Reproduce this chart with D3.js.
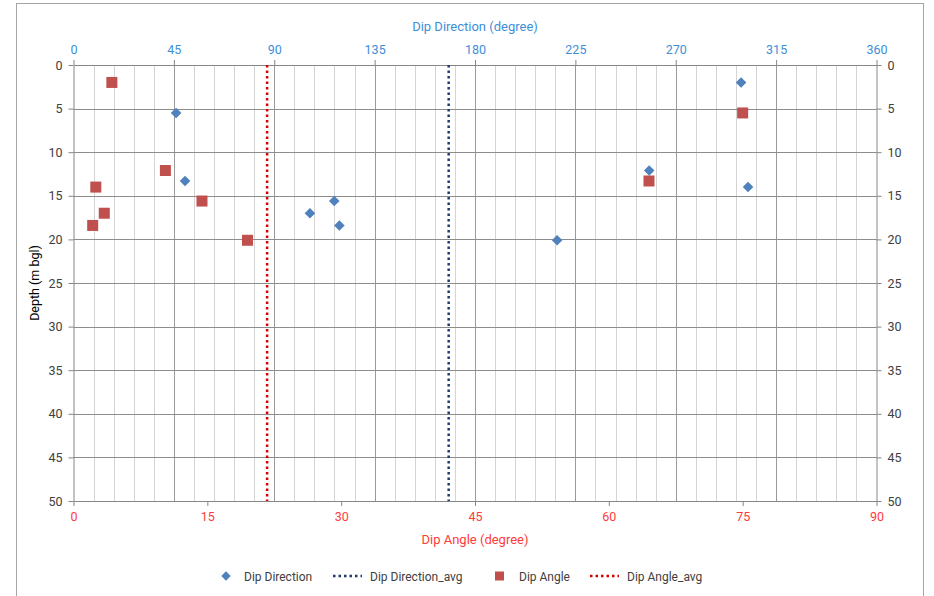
<!DOCTYPE html>
<html>
<head>
<meta charset="utf-8">
<script src="https://cdn.jsdelivr.net/npm/d3@7"></script>
<style>
  html, body { margin: 0; padding: 0; background: #fff; }
  svg { display: block; font-family: Roboto, "Liberation Sans", sans-serif; }
</style>
</head>
<body>
<svg id="chart" width="934" height="596"></svg>
<script>
// Depth of each measured structure (m below ground level)
const depths = [2.0, 5.5, 12.1, 13.3, 14.0, 15.6, 17.0, 18.4, 20.1];
// Dip direction (degrees, top axis)
const dipDirection = [299.3, 46.0, 258.1, 50.0, 302.4, 116.9, 106.0, 119.2, 216.8];
// Dip angle (degrees, bottom axis)
const dipAngle = [4.3, 75.0, 10.3, 64.5, 2.5, 14.4, 3.45, 2.15, 19.5];
// Averages drawn as vertical reference lines
const dipDirectionAvg = [168.2];
const dipAngleAvg = [21.7];
// Tick values
const dirTicks = [0, 45, 90, 135, 180, 225, 270, 315, 360];
const angleTicks = [0, 15, 30, 45, 60, 75, 90];
const depthTicks = [0, 5, 10, 15, 20, 25, 30, 35, 40, 45, 50];
const legendItems = ["Dip Direction", "Dip Direction_avg", "Dip Angle", "Dip Angle_avg"];

const svg = d3.select("#chart");
const plotLeft = 73.5, plotRight = 876.5, plotTop = 65, plotBottom = 501;

const xDir = d3.scaleLinear().domain([0, 360]).range([plotLeft, plotRight]);
const xAng = d3.scaleLinear().domain([0, 90]).range([plotLeft, plotRight]);
const y = d3.scaleLinear().domain([0, 50]).range([plotTop, plotBottom]);

const blue = "#4f81bd", red = "#c0504d";
const axisBlue = "#3d8fd8", axisRed = "#ff3b3b", textGrey = "#404040";

// outer chart frame
svg.append("rect").attr("x", 16.5).attr("y", 3.5).attr("width", 907).attr("height", 600)
  .attr("fill", "#fff").attr("stroke", "#a6a6a6").attr("stroke-width", 1);

// vertical gridlines: minor every 9 degrees of direction, major every 45
const grid = svg.append("g");
grid.selectAll("line.vminor").data(d3.range(9, 360, 9).filter(d => d % 45 !== 0))
  .join("line").attr("class", "vminor")
  .attr("x1", d => Math.round(xDir(d)) + 0.5).attr("x2", d => Math.round(xDir(d)) + 0.5)
  .attr("y1", plotTop).attr("y2", plotBottom)
  .attr("stroke", "#d4d4d4").attr("stroke-width", 1);
grid.selectAll("line.vmajor").data(d3.range(45, 360, 45))
  .join("line").attr("class", "vmajor")
  .attr("x1", d => Math.round(xDir(d)) + 0.5).attr("x2", d => Math.round(xDir(d)) + 0.5)
  .attr("y1", plotTop).attr("y2", plotBottom)
  .attr("stroke", "#9a9a9a").attr("stroke-width", 1);
grid.selectAll("line.h").data(depthTicks.slice(1, -1))
  .join("line").attr("class", "h")
  .attr("x1", plotLeft).attr("x2", plotRight)
  .attr("y1", d => Math.round(y(d)) + 0.5).attr("y2", d => Math.round(y(d)) + 0.5)
  .attr("stroke", "#8c8c8c").attr("stroke-width", 1);

// axes
function styleAxis(g, color) {
  g.selectAll(".domain").attr("stroke", "#868686");
  g.selectAll(".tick line").attr("stroke", "#868686");
  g.selectAll(".tick text").attr("fill", color).attr("font-size", "12.5px")
    .attr("font-family", "Roboto, 'Liberation Sans', sans-serif");
}
const axTop = svg.append("g").attr("transform", `translate(0,${plotTop})`)
  .call(d3.axisTop(xDir).tickValues(dirTicks).tickSizeInner(5).tickSizeOuter(0).tickPadding(6));
styleAxis(axTop, axisBlue);
const axBottom = svg.append("g").attr("transform", `translate(0,${plotBottom})`)
  .call(d3.axisBottom(xAng).tickValues(angleTicks).tickSizeInner(5).tickSizeOuter(0).tickPadding(6));
styleAxis(axBottom, axisRed);
const axLeft = svg.append("g").attr("transform", `translate(${plotLeft},0)`)
  .call(d3.axisLeft(y).tickValues(depthTicks).tickSizeInner(5).tickSizeOuter(0).tickPadding(6));
styleAxis(axLeft, textGrey);
const axRight = svg.append("g").attr("transform", `translate(${plotRight},0)`)
  .call(d3.axisRight(y).tickValues(depthTicks).tickSizeInner(5).tickSizeOuter(0).tickPadding(6));
styleAxis(axRight, textGrey);

// axis titles
svg.append("text").attr("x", (plotLeft + plotRight) / 2).attr("y", 31).attr("text-anchor", "middle")
  .attr("fill", axisBlue).attr("font-size", "13px").text("Dip Direction (degree)");
svg.append("text").attr("x", (plotLeft + plotRight) / 2).attr("y", 544).attr("text-anchor", "middle")
  .attr("fill", axisRed).attr("font-size", "13px").text("Dip Angle (degree)");
svg.append("text").attr("transform", `translate(38.5,283) rotate(-90)`)
  .attr("text-anchor", "middle").attr("fill", "#000").attr("font-size", "12.5px").text("Depth (m bgl)");

// average lines
const dotted = { width: 2.5, dash: "2.5,3" };
svg.selectAll("line.dirAvg").data(dipDirectionAvg).join("line").attr("class", "dirAvg")
  .attr("x1", d => xDir(d)).attr("x2", d => xDir(d)).attr("y1", y(0)).attr("y2", y(50))
  .attr("stroke", "#1f3b6e").attr("stroke-width", dotted.width).attr("stroke-dasharray", dotted.dash);
svg.selectAll("line.angAvg").data(dipAngleAvg).join("line").attr("class", "angAvg")
  .attr("x1", d => xAng(d)).attr("x2", d => xAng(d)).attr("y1", y(0)).attr("y2", y(50))
  .attr("stroke", "#d90000").attr("stroke-width", dotted.width).attr("stroke-dasharray", dotted.dash);

// markers
const diamond = d3.symbol().type(d3.symbolSquare).size(56);
svg.selectAll("path.dir").data(depths.map((d, i) => ({ depth: d, v: dipDirection[i] })))
  .join("path").attr("class", "dir")
  .attr("d", diamond)
  .attr("transform", d => `translate(${xDir(d.v)},${y(d.depth)}) rotate(45)`)
  .attr("fill", blue);
svg.selectAll("rect.ang").data(depths.map((d, i) => ({ depth: d, v: dipAngle[i] })))
  .join("rect").attr("class", "ang")
  .attr("x", d => xAng(d.v) - 5.5).attr("y", d => y(d.depth) - 5.5)
  .attr("width", 11).attr("height", 11)
  .attr("fill", red);

// legend
const lg = svg.append("g").attr("font-size", "12px").attr("fill", textGrey);
const ly = 576;
lg.append("path").attr("d", d3.symbol().type(d3.symbolSquare).size(44))
  .attr("transform", `translate(226,${ly}) rotate(45)`).attr("fill", blue);
lg.append("text").attr("x", 244).attr("y", ly + 4.5).attr("fill", textGrey).text(legendItems[0]);
lg.append("line").attr("x1", 333).attr("x2", 362).attr("y1", ly).attr("y2", ly)
  .attr("stroke", "#1f3b6e").attr("stroke-width", dotted.width).attr("stroke-dasharray", dotted.dash);
lg.append("text").attr("x", 370).attr("y", ly + 4.5).attr("fill", textGrey).text(legendItems[1]);
lg.append("rect").attr("x", 495).attr("y", ly - 4.5).attr("width", 9).attr("height", 9).attr("fill", red);
lg.append("text").attr("x", 519).attr("y", ly + 4.5).attr("fill", textGrey).text(legendItems[2]);
lg.append("line").attr("x1", 590).attr("x2", 619).attr("y1", ly).attr("y2", ly)
  .attr("stroke", "#d90000").attr("stroke-width", dotted.width).attr("stroke-dasharray", dotted.dash);
lg.append("text").attr("x", 627).attr("y", ly + 4.5).attr("fill", textGrey).text(legendItems[3]);
</script>
</body>
</html>
